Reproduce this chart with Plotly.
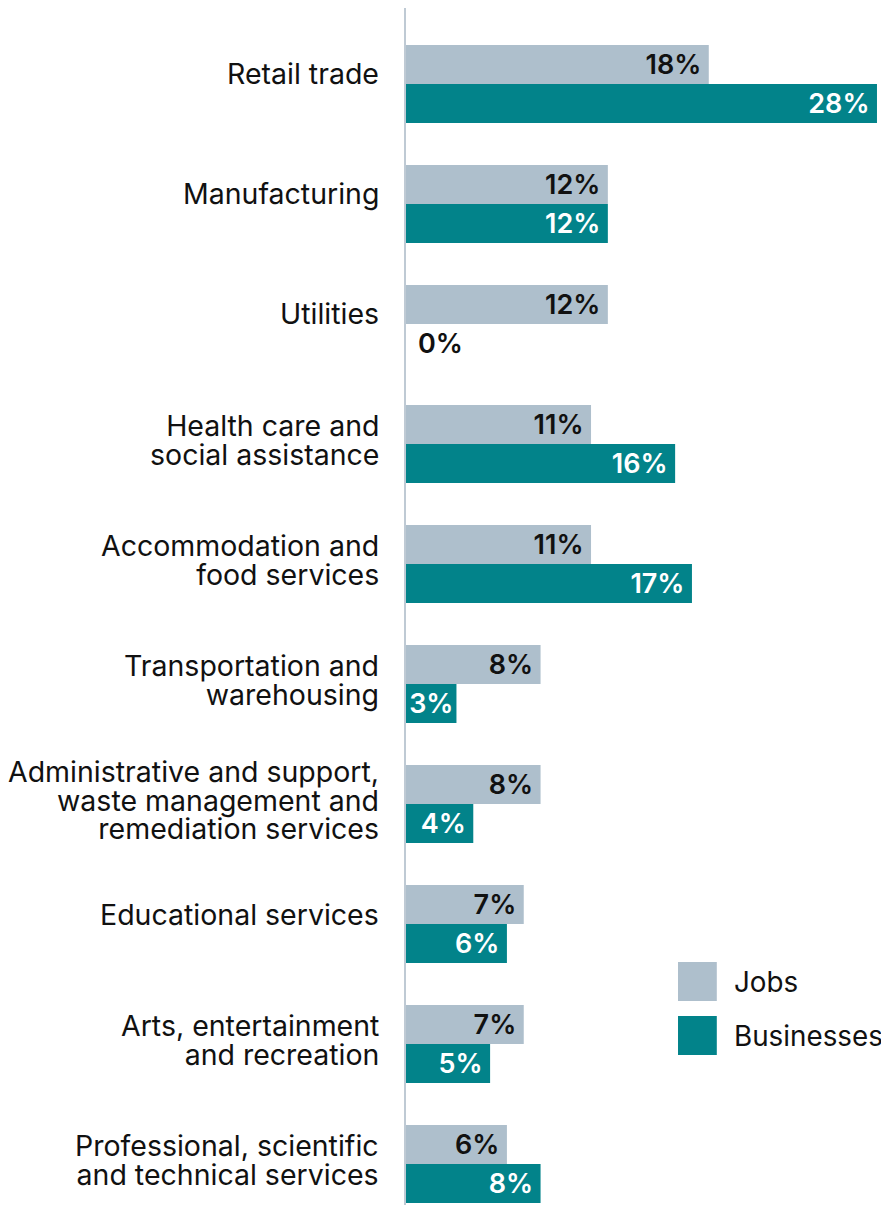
import plotly.graph_objects as go

# categories, top to bottom
categories = [
    "Retail trade",
    "Manufacturing",
    "Utilities",
    "Health care and<br>social assistance",
    "Accommodation and<br>food services",
    "Transportation and<br>warehousing",
    "Administrative and support,<br>waste management and<br>remediation services",
    "Educational services",
    "Arts, entertainment<br>and recreation",
    "Professional, scientific<br>and technical services",
]
jobs = [18, 12, 12, 11, 11, 8, 8, 7, 7, 6]
businesses = [28, 12, 0, 16, 17, 3, 4, 6, 5, 8]

JOBS_COLOR = "#AEBFCC"
BIZ_COLOR = "#02838A"
TEXT_COLOR = "#111111"
THIN = "\u2009"
LABEL_SIZE = 28.5
VALUE_SIZE = 27


def bar_labels(values):
    # zero bars get their label outside, pushed a little off the axis;
    # very short bars get no extra end padding so the label still fits
    out = []
    for v in values:
        if v == 0:
            out.append(THIN * 2 + f"{v}%")
        elif v < 4:
            out.append(f"{v}%")
        else:
            out.append(f"{v}%" + THIN)
    return out


value_font = dict(family="Inter", size=VALUE_SIZE, color=TEXT_COLOR, weight=600)

fig = go.Figure()
fig.add_trace(go.Bar(
    y=categories, x=jobs, orientation="h", name="Jobs",
    marker=dict(color=JOBS_COLOR, line=dict(width=0)),
    text=bar_labels(jobs),
    textposition=["outside" if v == 0 else "inside" for v in jobs],
    insidetextanchor="end",
    textfont=value_font,
    cliponaxis=False,
))
fig.add_trace(go.Bar(
    y=categories, x=businesses, orientation="h", name="Businesses",
    marker=dict(color=BIZ_COLOR, line=dict(width=0)),
    text=bar_labels(businesses),
    textposition=["outside" if v == 0 else "inside" for v in businesses],
    insidetextanchor="end",
    insidetextfont=dict(value_font, color="white"),
    outsidetextfont=value_font,
    cliponaxis=False,
))

# category labels: small base font sets the tight line spacing (1.3em),
# the span puts the glyphs back at full size
for cat in categories:
    lines = cat.split("<br>")
    lift = 10 if len(lines) == 1 else 4
    text = "<br>".join(f'<span style="font-size:{LABEL_SIZE}px">{l}</span>' for l in lines)
    fig.add_annotation(
        xref="paper", yref="y", x=0, y=cat, xshift=-25, yshift=lift,
        text=text, showarrow=False, xanchor="right", yanchor="middle", align="right",
        font=dict(family="Inter", size=22, color=TEXT_COLOR),
    )

# hand-drawn legend with big square swatches
legend_items = [("Jobs", JOBS_COLOR, 0.2083), ("Businesses", BIZ_COLOR, 0.1635)]
for label, color, top in legend_items:
    fig.add_shape(type="rect", xref="paper", yref="paper",
                  x0=0.554, x1=0.633, y0=top - 0.0324, y1=top,
                  fillcolor=color, line=dict(width=0))
    fig.add_annotation(xref="paper", yref="paper", x=0.663, y=top - 0.0162,
                       text=label, showarrow=False, xanchor="left", yanchor="middle",
                       font=dict(family="Inter", size=27.8, color=TEXT_COLOR))

fig.update_layout(
    width=889, height=1205,
    margin=dict(l=398, r=0, t=0, b=0),
    paper_bgcolor="white", plot_bgcolor="white",
    barmode="group", bargap=0.35, bargroupgap=0,
    showlegend=False,
    font=dict(family="Inter", color=TEXT_COLOR),
    uniformtext=dict(minsize=VALUE_SIZE, mode="show"),
)
fig.update_xaxes(range=[0, 29.19], visible=False, showgrid=False, zeroline=False)
fig.update_yaxes(
    categoryorder="array", categoryarray=categories,
    range=[9.408, -0.633],
    showline=True, linecolor="#BFCAD4", linewidth=2,
    showgrid=False, zeroline=False, ticks="", showticklabels=False,
)

fig.write_html("out.html")
